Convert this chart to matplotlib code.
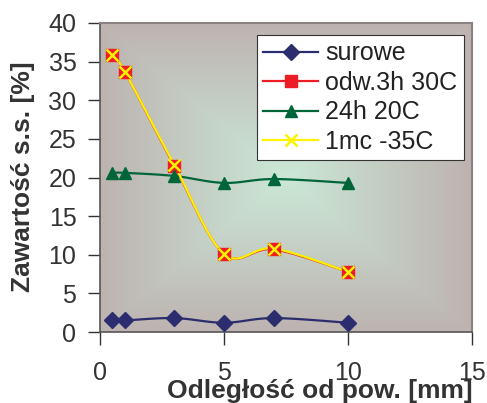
import numpy as np
import matplotlib
matplotlib.use("Agg")
import matplotlib.pyplot as plt
from matplotlib.colors import to_rgb

plt.rcParams['font.family'] = ['Liberation Sans', 'DejaVu Sans']

x = [0.5, 1, 3, 5, 7, 10]
surowe = [1.5, 1.5, 1.8, 1.2, 1.8, 1.2]
odw = [35.9, 33.7, 21.5, 10.1, 10.7, 7.8]
h24 = [20.6, 20.6, 20.2, 19.3, 19.8, 19.3]
mc1 = [35.9, 33.7, 21.6, 10.1, 10.8, 7.8]
series_names = ['surowe', 'odw.3h 30C', '24h 20C', '1mc -35C']
xticks = [0, 5, 10, 15]
yticks = [0, 5, 10, 15, 20, 25, 30, 35, 40]


def smooth(xs, ys, n=20):
    xs = np.asarray(xs, float)
    ys = np.asarray(ys, float)
    px, py = [], []
    m = len(xs)
    for i in range(m - 1):
        p0 = (xs[i - 1], ys[i - 1]) if i > 0 else (xs[i], ys[i])
        p1 = (xs[i], ys[i])
        p2 = (xs[i + 1], ys[i + 1])
        p3 = (xs[i + 2], ys[i + 2]) if i + 2 < m else (xs[i + 1], ys[i + 1])
        c1 = (p1[0] + (p2[0] - p0[0]) / 6, p1[1] + (p2[1] - p0[1]) / 6)
        c2 = (p2[0] - (p3[0] - p1[0]) / 6, p2[1] - (p3[1] - p1[1]) / 6)
        t = np.linspace(0, 1, n)
        bx = (1 - t) ** 3 * p1[0] + 3 * (1 - t) ** 2 * t * c1[0] + 3 * (1 - t) * t ** 2 * c2[0] + t ** 3 * p2[0]
        by = (1 - t) ** 3 * p1[1] + 3 * (1 - t) ** 2 * t * c1[1] + 3 * (1 - t) * t ** 2 * c2[1] + t ** 3 * p2[1]
        px.extend(bx)
        py.extend(by)
    return np.array(px), np.array(py)


fig = plt.figure(figsize=(4.87, 4.03), dpi=100)
ax = fig.add_axes([100 / 487, 1 - 332 / 403, 372 / 487, 309 / 403])

# gradient background (rectangular, from centre)
gx, gy = np.meshgrid(np.linspace(-1, 1, 300), np.linspace(-1, 1, 300))
t = np.maximum(np.abs(gx), np.abs(gy))
t = np.clip(t, 0, 1)
c_center = np.array(to_rgb('#cbe8d7'))
c_edge = np.array(to_rgb('#bdb3b0'))
img = c_center[None, None, :] * (1 - t[..., None]) + c_edge[None, None, :] * t[..., None]
ax.imshow(img, extent=(0, 1, 0, 1), transform=ax.transAxes, aspect='auto', zorder=0)

colors = ['#2b2d6e', '#ee1c24', '#00663a', '#fff200']
markers = ['D', 's', '^', 'x']
datas = [surowe, odw, h24, mc1]
msizes = [8, 8.5, 9, 9]
for name, d, c, mk, ms in zip(series_names, datas, colors, markers, msizes):
    sx, sy = smooth(x, d)
    ax.plot(sx, sy, color=c, lw=1.6, zorder=3)
    if mk == 'x':
        ax.plot(x, d, ls='none', marker=mk, color=c, ms=ms, mew=1.8, zorder=4)
    else:
        ax.plot(x, d, ls='none', marker=mk, color=c, mec=c, ms=ms, zorder=4)

handles = []
for name, c, mk, ms in zip(series_names, colors, markers, msizes):
    if mk == 'x':
        h, = ax.plot([], [], color=c, marker=mk, ms=ms, mew=1.8, lw=1.6, label=name)
    else:
        h, = ax.plot([], [], color=c, marker=mk, ms=ms, mec=c, lw=1.6, label=name)
    handles.append(h)

leg = ax.legend(handles=handles, loc='upper left', bbox_to_anchor=(157 / 372, 1 - 12 / 309),
                fontsize=18, frameon=True, fancybox=False, framealpha=1,
                edgecolor='#333333', handlelength=2.2, handletextpad=0.28,
                labelspacing=0.22, borderpad=0.25, borderaxespad=0)
leg.get_frame().set_linewidth(0.8)
for txt in leg.get_texts():
    txt.set_color('#222222')

ax.set_xlim(0, 15)
ax.set_ylim(0, 40)
ax.set_xticks(xticks)
ax.set_yticks(yticks)
ax.tick_params(axis='both', direction='out', labelsize=18, colors='#333333', width=1, length=9)
ax.tick_params(axis='x', pad=12)
ax.tick_params(axis='y', pad=8)
for s in ['left', 'bottom']:
    ax.spines[s].set_color('#555555')
    ax.spines[s].set_linewidth(1.2)
for s in ['top', 'right']:
    ax.spines[s].set_color('#8a8280')
    ax.spines[s].set_linewidth(1.5)

fig.text(23 / 487, 1 - 177 / 403, 'Zawartość s.s. [%]', rotation=90, ha='center', va='center',
         fontsize=19, fontweight='bold', color='#333333')
fig.text(320 / 487, 5 / 403, 'Odległość od pow. [mm]', ha='center', va='baseline',
         fontsize=19, fontweight='bold', color='#333333')

fig.savefig('out.png', dpi=100, facecolor='white')
